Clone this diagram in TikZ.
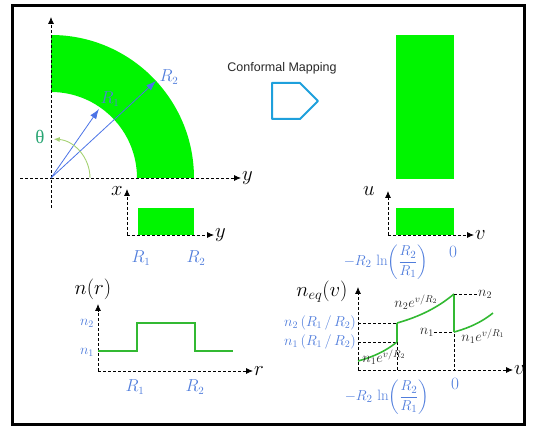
\documentclass[tikz,border=0pt]{standalone}
\usepackage{amsmath}
\usepackage{fontspec}
\usetikzlibrary{arrows.meta}
\newfontfamily\sansf{Liberation Sans}
\newfontfamily\serf{Liberation Serif}
\definecolor{gfill}{RGB}{0,245,0}
\definecolor{gline}{RGB}{50,185,50}
\definecolor{lblue}{RGB}{80,125,220}
\definecolor{abl}{RGB}{75,115,230}
\definecolor{teal}{RGB}{40,165,115}
\definecolor{arcg}{RGB}{165,210,115}
\definecolor{pent}{RGB}{30,160,220}
\definecolor{dk}{RGB}{40,40,40}
\tikzset{
  axis/.style={dashed, dash pattern=on 3pt off 2pt, line width=0.8pt, black},
  axisarrow/.style={axis, -{Latex[length=7pt,width=6pt]}},
  dline/.style={dashed, dash pattern=on 3pt off 2pt, line width=0.8pt, black},
  blbl/.style={text=lblue, inner sep=1pt, font=\fontsize{16}{19}\selectfont},
  sblbl/.style={text=lblue, inner sep=1pt, font=\fontsize{14}{17}\selectfont},
  axlbl/.style={text=black, inner sep=1pt, font=\fontsize{21}{24}\selectfont},
  dklbl/.style={text=dk, inner sep=0pt, font=\fontsize{14}{17}\selectfont},
  curve/.style={gline, line width=1.6pt},
  vec/.style={abl, line width=0.8pt, -{Latex[length=10pt,width=7pt]}}
}
\begin{document}
\begin{tikzpicture}[x=1pt,y=1pt]
\useasboundingbox (0,0) rectangle (533,428);
\draw[line width=3pt] (12,3) rectangle (524,422);

% ---------- quarter annulus ----------
\fill[gfill] (137,250) arc[start angle=0,end angle=90,radius=86] -- (51,393)
  arc[start angle=90,end angle=0,radius=143] -- cycle;
\coordinate (O) at (51,250);
\coordinate (Obot) at (51,220);
\coordinate (Otop) at (51,411);
\coordinate (Oleft) at (20,250);
\coordinate (Oright) at (241,250);
\draw[axis] (Obot) -- (O);
\draw[axisarrow] (O) -- (Otop);
\draw[axis] (Oleft) -- (O);
\draw[axisarrow] (O) -- (Oright);
\node[axlbl, anchor=west] (ylab) at (Oright) {$y$};
\coordinate (R1e) at (99,319);
\coordinate (R2e) at (156,347);
\draw[vec] (O) -- (R1e);
\draw[vec] (O) -- (R2e);
\node[blbl] (r1top) at (110,329) {$R_1$};
\node[blbl] (r2top) at (169,351) {$R_2$};
\draw[arcg, line width=0.9pt, -{Latex[length=6pt,width=5pt]}] (90,250) arc[start angle=0,end angle=86,radius=39];
\node[text=teal, inner sep=1pt, font=\serf\fontsize{19}{22}\selectfont] (th) at (40,291) {θ};

% ---------- small x-y inset ----------
\coordinate (I) at (127,193);
\coordinate (Itop) at (127,239);
\coordinate (Iright) at (214,193);
\fill[gfill] (138,193) rectangle (194,220);
\draw[axisarrow] (I) -- (Itop);
\draw[axisarrow] (I) -- (Iright);
\node[axlbl] (xlab) at (117,237) {$x$};
\node[axlbl, anchor=west] (ylab2) at (Iright) {$y$};
\node[blbl] (r1a) at (141,170) {$R_1$};
\node[blbl] (r2a) at (196,170) {$R_2$};

% ---------- conformal mapping ----------
\node[text=dk, font=\sansf\fontsize{12.5}{15}\selectfont] (cm) at (282,360) {Conformal Mapping};
\draw[pent, line width=2pt, line join=round] (272,345) -- (300,345) -- (318,327) -- (300,309) -- (272,309) -- cycle;

% ---------- tall rectangle ----------
\fill[gfill] (396,249) rectangle (454,393);

% ---------- u-v inset ----------
\coordinate (U) at (388,193);
\coordinate (Utop) at (388,237);
\coordinate (Uright) at (474,193);
\fill[gfill] (396,193) rectangle (454,220);
\draw[axisarrow] (U) -- (Utop);
\draw[axisarrow] (U) -- (Uright);
\node[axlbl] (ulab) at (369,237) {$u$};
\node[axlbl, anchor=west] (vlab) at (Uright) {$v$};
\node[blbl, font=\fontsize{15}{18}\selectfont] (lnA) at (386,166) {$-R_2\,\ln\!\left(\dfrac{R_2}{R_1}\right)$};
\node[blbl] (zA) at (453,176) {$0$};

% ---------- n(r) graph ----------
\coordinate (N) at (98,57);
\coordinate (Ntop) at (98,124);
\coordinate (Nright) at (253,57);
\draw[axisarrow] (N) -- (Ntop);
\draw[axisarrow] (N) -- (Nright);
\node[axlbl, anchor=west] (rlab) at (Nright) {$r$};
\node[axlbl] (nr) at (93,139) {$n(r)$};
\node[sblbl] (n2a) at (87,105) {$n_2$};
\node[sblbl] (n1a) at (87,76) {$n_1$};
\draw[curve] (98,77) -- (137,77) -- (137,105) -- (195,105) -- (195,77) -- (233,77);
\node[blbl] (r1b) at (135,41) {$R_1$};
\node[blbl] (r2b) at (195,41) {$R_2$};

% ---------- n_eq(v) graph ----------
\coordinate (E) at (358,58);
\coordinate (Etop) at (358,141);
\coordinate (Eright) at (513,58);
\coordinate (A1) at (397,86);
\coordinate (A2) at (397,105);
\coordinate (B1) at (454,96);
\coordinate (B2) at (454,134);
\coordinate (Abot) at (397,58);
\coordinate (Bbot) at (454,58);
\coordinate (L1) at (358,86);
\coordinate (L2) at (358,105);
\draw[dline] (L2) -- (A2);
\draw[dline] (L1) -- (A1);
\draw[dline] (A1) -- (Abot);
\draw[dline] (B2) -- (Bbot);
\draw[axisarrow] (E) -- (Etop);
\draw[axisarrow] (E) -- (Eright);
\node[axlbl, anchor=west] (vlab2) at (Eright) {$v$};
\node[axlbl] (neq) at (322,136) {$n_{eq}(v)$};
\node[sblbl, anchor=east] (n2q) at (357,105) {$n_2\left(R_1\,/\,R_2\right)$};
\node[sblbl, anchor=east] (n1q) at (357,86) {$n_1\left(R_1\,/\,R_2\right)$};
\draw[curve] plot[domain=0:1, samples=30] ({358+39*\x}, {67+19*(exp(1.1*\x)-1)/(exp(1.1)-1)});
\draw[curve] (A1) -- (A2);
\draw[curve] plot[domain=0:1, samples=30] ({397+57*\x}, {105+29*(exp(1.1*\x)-1)/(exp(1.1)-1)});
\draw[curve] (B2) -- (B1);
\draw[curve] plot[domain=0:1, samples=30] ({454+39*\x}, {96+19*(exp(1.1*\x)-1)/(exp(1.1)-1)});
\node[dklbl, anchor=west] (n2r) at (478,134) {$n_2$};
\draw[dline] (B2) -- (n2r.west);
\node[dklbl, anchor=east] (n1r) at (434,96) {$n_1$};
\draw[dline] (n1r.east) -- (B1);
\node[dklbl] (e2) at (416,126) {$n_2e^{v/R_2}$};
\node[dklbl] (e3) at (483,92) {$n_1e^{v/R_1}$};
\node[dklbl] (e1) at (384,71) {$n_1e^{v/R_2}$};
\node[blbl, inner sep=0pt, font=\fontsize{15}{18}\selectfont] (lnB) at (387,31) {$-R_2\,\ln\!\left(\dfrac{R_2}{R_1}\right)$};
\node[blbl] (zB) at (455,44) {$0$};
\end{tikzpicture}
\end{document}
